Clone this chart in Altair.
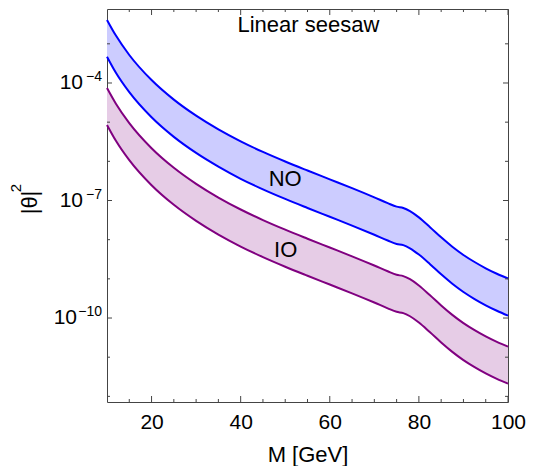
import altair as alt
import pandas as pd

# ---- data (exponents of |theta|^2) ----
M = [10, 12, 15, 20, 25, 30, 35, 40, 45, 50, 55, 60, 65, 70, 73, 75, 76.5, 78,
     80, 82.5, 85, 87.5, 90, 92.5, 95, 97.5, 100]
NO_hi_exp = [-2.39, -2.79, -3.285, -3.925, -4.425, -4.835, -5.185, -5.49, -5.76, -6.005,
             -6.235, -6.46, -6.685, -6.92, -7.067, -7.157, -7.19, -7.27, -7.43, -7.68,
             -7.94, -8.18, -8.39, -8.57, -8.73, -8.87, -8.99]
NO_lo_exp = [-3.33, -3.74, -4.235, -4.875, -5.375, -5.785, -6.135, -6.445, -6.715, -6.96,
             -7.19, -7.415, -7.64, -7.875, -8.02, -8.11, -8.14, -8.22, -8.38, -8.625,
             -8.885, -9.125, -9.335, -9.515, -9.675, -9.815, -9.94]
IO_hi_exp = [-4.13, -4.53, -5.025, -5.665, -6.165, -6.575, -6.925, -7.23, -7.50, -7.745,
             -7.975, -8.20, -8.425, -8.66, -8.807, -8.897, -8.93, -9.01, -9.17, -9.42,
             -9.68, -9.92, -10.13, -10.31, -10.47, -10.61, -10.73]
IO_lo_exp = [-5.07, -5.475, -5.97, -6.61, -7.11, -7.52, -7.87, -8.175, -8.445, -8.69,
             -8.92, -9.145, -9.37, -9.605, -9.752, -9.842, -9.875, -9.955, -10.115, -10.365,
             -10.625, -10.865, -11.075, -11.255, -11.415, -11.555, -11.675]

x_major = [20, 40, 60, 80, 100]
x_minor = [15, 25, 30, 35, 45, 50, 55, 65, 70, 75, 85, 90, 95]
y_major_exp = [-4, -7, -10]
y_major_base = ["10", "10", "10"]
y_major_sup = ["\u22124", "\u22127", "\u221210"]
y_minor_exp = [-3, -5, -6, -8, -9, -11, -12]

label_text = ["Linear seesaw", "NO", "IO"]
label_M = [55.2, 50.0, 50.1]
label_exp = [-2.52, -6.44, -8.27]

y_title = "|\u03b8|"
y_title_sup = "2"
y_title_sup_exp = -6.68

# ---- layout ----
W, H = 401, 393
FONT = "Liberation Sans"
AX = "#444444"
MAJ, MIN = 6, 3

bands = pd.DataFrame({
    "M": M,
    "no_hi": [10 ** v for v in NO_hi_exp],
    "no_lo": [10 ** v for v in NO_lo_exp],
    "io_hi": [10 ** v for v in IO_hi_exp],
    "io_lo": [10 ** v for v in IO_lo_exp],
})
long_no = pd.concat([
    pd.DataFrame({"M": M, "v": bands["no_hi"], "curve": "hi"}),
    pd.DataFrame({"M": M, "v": bands["no_lo"], "curve": "lo"}),
])
long_io = pd.concat([
    pd.DataFrame({"M": M, "v": bands["io_hi"], "curve": "hi"}),
    pd.DataFrame({"M": M, "v": bands["io_lo"], "curve": "lo"}),
])
labels = pd.DataFrame({"M": label_M, "v": [10 ** v for v in label_exp], "t": label_text})
ticklab = pd.DataFrame({
    "v": [10 ** e for e in y_major_exp],
    "base": y_major_base,
    "sup": y_major_sup,
    "n": [len(s) for s in y_major_sup],
})
xmaj_df = pd.DataFrame({"M": x_major})
xmin_df = pd.DataFrame({"M": x_minor})
ymaj_df = pd.DataFrame({"v": [10 ** e for e in y_major_exp]})
ymin_df = pd.DataFrame({"v": [10 ** e for e in y_minor_exp]})

xscale = alt.Scale(domain=[10, 100], nice=False, zero=False)
yscale = alt.Scale(type="log", domain=[10 ** -12.144, 10 ** -2.111], nice=False)


def X(field, axis=None):
    return alt.X(field, type="quantitative", scale=xscale, axis=axis)


def Y(field, axis=None):
    return alt.Y(field, type="quantitative", scale=yscale, axis=axis)


X_LEFT = alt.X(datum=10, type="quantitative", scale=xscale, axis=None)

area_no = alt.Chart(bands).mark_area(color="#CCCCFF", interpolate="monotone").encode(
    x=X("M", alt.Axis(
        orient="bottom", values=x_major, ticks=False, labelPadding=9,
        labelFont=FONT, labelFontSize=21, labelColor="black", labelFlush=False,
        labelOverlap=False, domain=False, grid=False,
        title="M [GeV]", titleFont=FONT, titleFontSize=22, titleFontWeight="normal",
        titleColor="black", titlePadding=12)),
    y=Y("no_lo", alt.Axis(
        orient="left", labels=False, ticks=False, domain=False, grid=False,
        title=y_title, titleFont=FONT, titleFontSize=22, titleFontWeight="normal",
        titleColor="black", titleAngle=270, titleX=-78, titleY=193,
        titleAlign="center", titleBaseline="middle")),
    y2="no_hi")
area_io = alt.Chart(bands).mark_area(color="#E6CCE6", interpolate="monotone").encode(
    x=X("M"), y=Y("io_lo"), y2="io_hi")
line_no = alt.Chart(long_no).mark_line(color="#0000FF", strokeWidth=2, interpolate="monotone").encode(
    x=X("M"), y=Y("v"), detail="curve:N")
line_io = alt.Chart(long_io).mark_line(color="#800080", strokeWidth=2, interpolate="monotone").encode(
    x=X("M"), y=Y("v"), detail="curve:N")
text = alt.Chart(labels).mark_text(font=FONT, fontSize=22, color="black",
                                   align="center", baseline="middle").encode(
    x=X("M"), y=Y("v"), text="t:N")

# y tick labels: base "10" and raised exponent at the left frame
sup_text = alt.Chart(ticklab).mark_text(font=FONT, fontSize=14, color="black", align="right",
                                        baseline="middle", dx=-5, dy=-6).encode(
    x=X_LEFT, y=Y("v"), text="sup:N")
base_short = alt.Chart(ticklab).transform_filter("datum.n == 2").mark_text(
    font=FONT, fontSize=21, color="black", align="right", baseline="middle", dx=-24).encode(
    x=X_LEFT, y=Y("v"), text="base:N")
base_long = alt.Chart(ticklab).transform_filter("datum.n == 3").mark_text(
    font=FONT, fontSize=21, color="black", align="right", baseline="middle", dx=-30).encode(
    x=X_LEFT, y=Y("v"), text="base:N")

# superscript of the y title (rotated like the title)
title_sup = alt.Chart(pd.DataFrame({"t": [y_title_sup]})).mark_text(
    font=FONT, fontSize=15, color="black", align="center", baseline="middle",
    angle=270, dy=-91).encode(
    x=X_LEFT,
    y=alt.Y(datum=10 ** y_title_sup_exp, type="quantitative", scale=yscale, axis=None),
    text="t:N")


# inward frame ticks on all four sides
def xticks(df, y0, y1):
    return alt.Chart(df).mark_rule(color=AX, strokeWidth=1).encode(
        x=X("M"), y=alt.value(y0), y2=alt.value(y1))


def yticks(df, x0, x1):
    return alt.Chart(df).mark_rule(color=AX, strokeWidth=1).encode(
        y=Y("v"), x=alt.value(x0), x2=alt.value(x1))


ticks = [
    xticks(xmaj_df, H, H - MAJ), xticks(xmin_df, H, H - MIN),
    xticks(xmaj_df, 0, MAJ), xticks(xmin_df, 0, MIN),
    yticks(ymaj_df, 0, MAJ - 1), yticks(ymin_df, 0, MIN),
    yticks(ymaj_df, W, W - MAJ + 1), yticks(ymin_df, W, W - MIN),
]

chart = alt.layer(
    area_no, area_io, line_no, line_io, text, sup_text, base_short, base_long, title_sup,
    *ticks,
).resolve_axis(x="independent", y="independent").properties(
    width=W, height=H,
    autosize=alt.AutoSizeParams(type="none"),
    padding={"left": 99, "top": 1, "right": 21, "bottom": 64},
).configure_view(stroke=AX, strokeWidth=1)

chart.save("out.html", embed_options={"renderer": "svg", "actions": False})
